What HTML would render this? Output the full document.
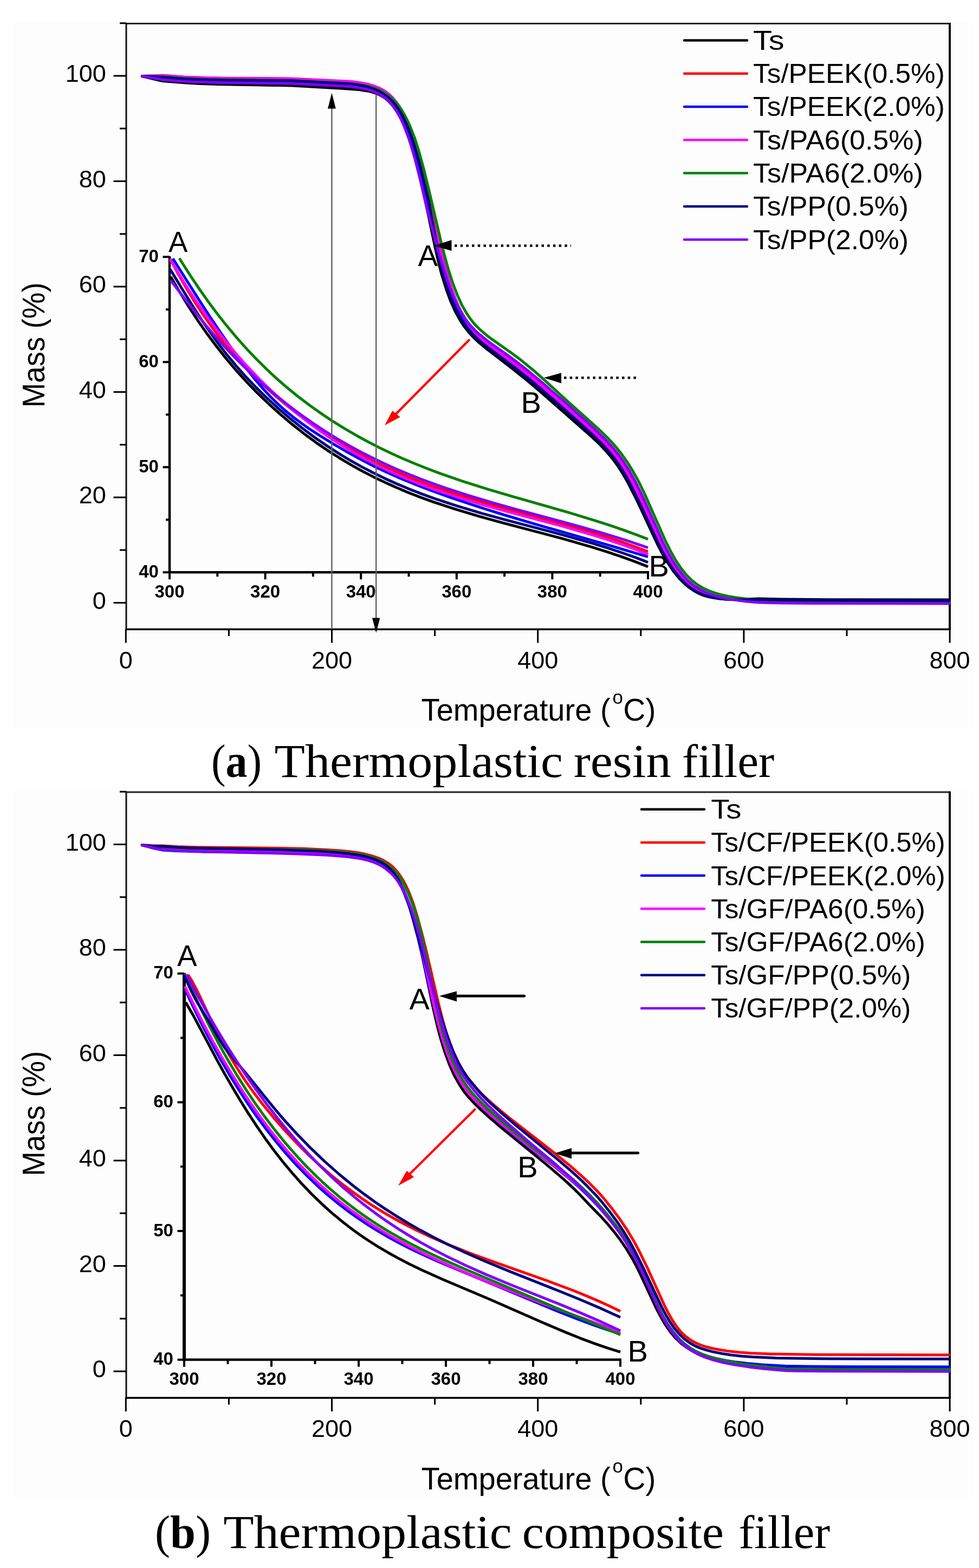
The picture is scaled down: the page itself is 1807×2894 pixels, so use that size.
<!DOCTYPE html>
<html><head><meta charset="utf-8"><title>TGA curves</title>
<style>html,body{margin:0;padding:0;background:#fff;} svg{display:block;}</style>
</head><body>
<svg xmlns="http://www.w3.org/2000/svg" width="1807" height="2894" viewBox="0 0 1807 2894">
<rect x="25" y="40" width="1771.5" height="1304.7" fill="#fdfdfd"/>
<rect x="25" y="1459" width="1771.5" height="1306" fill="#fdfdfd"/>
<line x1="233.0" y1="43.5" x2="1753.0" y2="43.5" stroke="#222" stroke-width="3" />
<line x1="1753.0" y1="42.0" x2="1753.0" y2="1163.0" stroke="#000" stroke-width="4" />
<line x1="233.0" y1="42.0" x2="233.0" y2="1163.0" stroke="#111" stroke-width="3" />
<line x1="231.5" y1="1161.5" x2="1755.0" y2="1161.5" stroke="#000" stroke-width="3.5" />
<line x1="232.3" y1="1161.5" x2="232.3" y2="1186.5" stroke="#000" stroke-width="3" />
<line x1="422.4" y1="1161.5" x2="422.4" y2="1174.0" stroke="#000" stroke-width="3" />
<line x1="612.5" y1="1161.5" x2="612.5" y2="1186.5" stroke="#000" stroke-width="3" />
<line x1="802.6" y1="1161.5" x2="802.6" y2="1174.0" stroke="#000" stroke-width="3" />
<line x1="992.7" y1="1161.5" x2="992.7" y2="1186.5" stroke="#000" stroke-width="3" />
<line x1="1182.8" y1="1161.5" x2="1182.8" y2="1174.0" stroke="#000" stroke-width="3" />
<line x1="1372.9" y1="1161.5" x2="1372.9" y2="1186.5" stroke="#000" stroke-width="3" />
<line x1="1563.0" y1="1161.5" x2="1563.0" y2="1174.0" stroke="#000" stroke-width="3" />
<line x1="1753.1" y1="1161.5" x2="1753.1" y2="1186.5" stroke="#000" stroke-width="3" />
<text x="232.3" y="1233.5" font-size="45" text-anchor="middle" font-weight="normal" font-family="Liberation Sans, Arial, sans-serif" >0</text>
<text x="612.5" y="1233.5" font-size="45" text-anchor="middle" font-weight="normal" font-family="Liberation Sans, Arial, sans-serif" >200</text>
<text x="992.7" y="1233.5" font-size="45" text-anchor="middle" font-weight="normal" font-family="Liberation Sans, Arial, sans-serif" >400</text>
<text x="1372.9" y="1233.5" font-size="45" text-anchor="middle" font-weight="normal" font-family="Liberation Sans, Arial, sans-serif" >600</text>
<text x="1753.1" y="1233.5" font-size="45" text-anchor="middle" font-weight="normal" font-family="Liberation Sans, Arial, sans-serif" >800</text>
<line x1="209.5" y1="1112.5" x2="233.0" y2="1112.5" stroke="#000" stroke-width="3" />
<line x1="221.0" y1="1015.2" x2="233.0" y2="1015.2" stroke="#000" stroke-width="3" />
<line x1="209.5" y1="918.0" x2="233.0" y2="918.0" stroke="#000" stroke-width="3" />
<line x1="221.0" y1="820.8" x2="233.0" y2="820.8" stroke="#000" stroke-width="3" />
<line x1="209.5" y1="723.5" x2="233.0" y2="723.5" stroke="#000" stroke-width="3" />
<line x1="221.0" y1="626.2" x2="233.0" y2="626.2" stroke="#000" stroke-width="3" />
<line x1="209.5" y1="529.0" x2="233.0" y2="529.0" stroke="#000" stroke-width="3" />
<line x1="221.0" y1="431.8" x2="233.0" y2="431.8" stroke="#000" stroke-width="3" />
<line x1="209.5" y1="334.5" x2="233.0" y2="334.5" stroke="#000" stroke-width="3" />
<line x1="221.0" y1="237.2" x2="233.0" y2="237.2" stroke="#000" stroke-width="3" />
<line x1="209.5" y1="140.0" x2="233.0" y2="140.0" stroke="#000" stroke-width="3" />
<line x1="221.0" y1="42.8" x2="233.0" y2="42.8" stroke="#000" stroke-width="3" />
<text x="195.8" y="1123.7" font-size="45" text-anchor="end" font-weight="normal" font-family="Liberation Sans, Arial, sans-serif" >0</text>
<text x="195.8" y="929.2" font-size="45" text-anchor="end" font-weight="normal" font-family="Liberation Sans, Arial, sans-serif" >20</text>
<text x="195.8" y="734.7" font-size="45" text-anchor="end" font-weight="normal" font-family="Liberation Sans, Arial, sans-serif" >40</text>
<text x="195.8" y="540.2" font-size="45" text-anchor="end" font-weight="normal" font-family="Liberation Sans, Arial, sans-serif" >60</text>
<text x="195.8" y="345.7" font-size="45" text-anchor="end" font-weight="normal" font-family="Liberation Sans, Arial, sans-serif" >80</text>
<text x="195.8" y="151.2" font-size="45" text-anchor="end" font-weight="normal" font-family="Liberation Sans, Arial, sans-serif" >100</text>
<text x="777.6" y="1330" font-size="57" font-family="Liberation Sans, Arial, sans-serif" textLength="349" lengthAdjust="spacingAndGlyphs">Temperature (</text>
<text x="1130.4" y="1299.3" font-size="35" font-family="Liberation Sans, Arial, sans-serif">o</text>
<text x="1150.3" y="1330" font-size="57" font-family="Liberation Sans, Arial, sans-serif">C)</text>
<text transform="translate(81.8,752.2) rotate(-90)" font-size="57" font-family="Liberation Sans, Arial, sans-serif" textLength="230.8" lengthAdjust="spacingAndGlyphs">Mass (%)</text>
<line x1="233.0" y1="1462.0" x2="1753.0" y2="1462.0" stroke="#222" stroke-width="3" />
<line x1="1753.0" y1="1460.5" x2="1753.0" y2="2581.5" stroke="#000" stroke-width="4" />
<line x1="233.0" y1="1460.5" x2="233.0" y2="2581.5" stroke="#111" stroke-width="3" />
<line x1="231.5" y1="2580.0" x2="1755.0" y2="2580.0" stroke="#000" stroke-width="3.5" />
<line x1="232.3" y1="2580.0" x2="232.3" y2="2605.0" stroke="#000" stroke-width="3" />
<line x1="422.4" y1="2580.0" x2="422.4" y2="2592.5" stroke="#000" stroke-width="3" />
<line x1="612.5" y1="2580.0" x2="612.5" y2="2605.0" stroke="#000" stroke-width="3" />
<line x1="802.6" y1="2580.0" x2="802.6" y2="2592.5" stroke="#000" stroke-width="3" />
<line x1="992.7" y1="2580.0" x2="992.7" y2="2605.0" stroke="#000" stroke-width="3" />
<line x1="1182.8" y1="2580.0" x2="1182.8" y2="2592.5" stroke="#000" stroke-width="3" />
<line x1="1372.9" y1="2580.0" x2="1372.9" y2="2605.0" stroke="#000" stroke-width="3" />
<line x1="1563.0" y1="2580.0" x2="1563.0" y2="2592.5" stroke="#000" stroke-width="3" />
<line x1="1753.1" y1="2580.0" x2="1753.1" y2="2605.0" stroke="#000" stroke-width="3" />
<text x="232.3" y="2652.0" font-size="45" text-anchor="middle" font-weight="normal" font-family="Liberation Sans, Arial, sans-serif" >0</text>
<text x="612.5" y="2652.0" font-size="45" text-anchor="middle" font-weight="normal" font-family="Liberation Sans, Arial, sans-serif" >200</text>
<text x="992.7" y="2652.0" font-size="45" text-anchor="middle" font-weight="normal" font-family="Liberation Sans, Arial, sans-serif" >400</text>
<text x="1372.9" y="2652.0" font-size="45" text-anchor="middle" font-weight="normal" font-family="Liberation Sans, Arial, sans-serif" >600</text>
<text x="1753.1" y="2652.0" font-size="45" text-anchor="middle" font-weight="normal" font-family="Liberation Sans, Arial, sans-serif" >800</text>
<line x1="209.5" y1="2531.0" x2="233.0" y2="2531.0" stroke="#000" stroke-width="3" />
<line x1="221.0" y1="2433.8" x2="233.0" y2="2433.8" stroke="#000" stroke-width="3" />
<line x1="209.5" y1="2336.5" x2="233.0" y2="2336.5" stroke="#000" stroke-width="3" />
<line x1="221.0" y1="2239.2" x2="233.0" y2="2239.2" stroke="#000" stroke-width="3" />
<line x1="209.5" y1="2142.0" x2="233.0" y2="2142.0" stroke="#000" stroke-width="3" />
<line x1="221.0" y1="2044.8" x2="233.0" y2="2044.8" stroke="#000" stroke-width="3" />
<line x1="209.5" y1="1947.5" x2="233.0" y2="1947.5" stroke="#000" stroke-width="3" />
<line x1="221.0" y1="1850.2" x2="233.0" y2="1850.2" stroke="#000" stroke-width="3" />
<line x1="209.5" y1="1753.0" x2="233.0" y2="1753.0" stroke="#000" stroke-width="3" />
<line x1="221.0" y1="1655.8" x2="233.0" y2="1655.8" stroke="#000" stroke-width="3" />
<line x1="209.5" y1="1558.5" x2="233.0" y2="1558.5" stroke="#000" stroke-width="3" />
<line x1="221.0" y1="1461.2" x2="233.0" y2="1461.2" stroke="#000" stroke-width="3" />
<text x="195.8" y="2542.2" font-size="45" text-anchor="end" font-weight="normal" font-family="Liberation Sans, Arial, sans-serif" >0</text>
<text x="195.8" y="2347.7" font-size="45" text-anchor="end" font-weight="normal" font-family="Liberation Sans, Arial, sans-serif" >20</text>
<text x="195.8" y="2153.2" font-size="45" text-anchor="end" font-weight="normal" font-family="Liberation Sans, Arial, sans-serif" >40</text>
<text x="195.8" y="1958.7" font-size="45" text-anchor="end" font-weight="normal" font-family="Liberation Sans, Arial, sans-serif" >60</text>
<text x="195.8" y="1764.2" font-size="45" text-anchor="end" font-weight="normal" font-family="Liberation Sans, Arial, sans-serif" >80</text>
<text x="195.8" y="1569.7" font-size="45" text-anchor="end" font-weight="normal" font-family="Liberation Sans, Arial, sans-serif" >100</text>
<text x="777.6" y="2748.5" font-size="57" font-family="Liberation Sans, Arial, sans-serif" textLength="349" lengthAdjust="spacingAndGlyphs">Temperature (</text>
<text x="1130.4" y="2717.8" font-size="35" font-family="Liberation Sans, Arial, sans-serif">o</text>
<text x="1150.3" y="2748.5" font-size="57" font-family="Liberation Sans, Arial, sans-serif">C)</text>
<text transform="translate(81.8,2170.7) rotate(-90)" font-size="57" font-family="Liberation Sans, Arial, sans-serif" textLength="230.8" lengthAdjust="spacingAndGlyphs">Mass (%)</text>
<line x1="1263.0" y1="74.4" x2="1379.0" y2="74.4" stroke="#000000" stroke-width="4.5" stroke-linecap="round"/>
<text x="1390.0" y="91.8" font-size="50" text-anchor="start" font-weight="normal" font-family="Liberation Sans, Arial, sans-serif" textLength="57.6" lengthAdjust="spacingAndGlyphs">Ts</text>
<line x1="1263.0" y1="135.7" x2="1379.0" y2="135.7" stroke="#ff0000" stroke-width="4.5" stroke-linecap="round"/>
<text x="1390.0" y="153.1" font-size="50" text-anchor="start" font-weight="normal" font-family="Liberation Sans, Arial, sans-serif" textLength="353.8" lengthAdjust="spacingAndGlyphs">Ts/PEEK(0.5%)</text>
<line x1="1263.0" y1="197.0" x2="1379.0" y2="197.0" stroke="#0000ff" stroke-width="4.5" stroke-linecap="round"/>
<text x="1390.0" y="214.4" font-size="50" text-anchor="start" font-weight="normal" font-family="Liberation Sans, Arial, sans-serif" textLength="353.8" lengthAdjust="spacingAndGlyphs">Ts/PEEK(2.0%)</text>
<line x1="1263.0" y1="258.3" x2="1379.0" y2="258.3" stroke="#ff00ff" stroke-width="4.5" stroke-linecap="round"/>
<text x="1390.0" y="275.7" font-size="50" text-anchor="start" font-weight="normal" font-family="Liberation Sans, Arial, sans-serif" textLength="313.7" lengthAdjust="spacingAndGlyphs">Ts/PA6(0.5%)</text>
<line x1="1263.0" y1="319.6" x2="1379.0" y2="319.6" stroke="#008000" stroke-width="4.5" stroke-linecap="round"/>
<text x="1390.0" y="337.0" font-size="50" text-anchor="start" font-weight="normal" font-family="Liberation Sans, Arial, sans-serif" textLength="313.7" lengthAdjust="spacingAndGlyphs">Ts/PA6(2.0%)</text>
<line x1="1263.0" y1="380.9" x2="1379.0" y2="380.9" stroke="#000080" stroke-width="4.5" stroke-linecap="round"/>
<text x="1390.0" y="398.3" font-size="50" text-anchor="start" font-weight="normal" font-family="Liberation Sans, Arial, sans-serif" textLength="286.9" lengthAdjust="spacingAndGlyphs">Ts/PP(0.5%)</text>
<line x1="1263.0" y1="442.2" x2="1379.0" y2="442.2" stroke="#8000ff" stroke-width="4.5" stroke-linecap="round"/>
<text x="1390.0" y="459.6" font-size="50" text-anchor="start" font-weight="normal" font-family="Liberation Sans, Arial, sans-serif" textLength="286.9" lengthAdjust="spacingAndGlyphs">Ts/PP(2.0%)</text>
<line x1="1184.0" y1="1493.7" x2="1300.0" y2="1493.7" stroke="#000000" stroke-width="4.5" stroke-linecap="round"/>
<text x="1312.2" y="1511.1" font-size="50" text-anchor="start" font-weight="normal" font-family="Liberation Sans, Arial, sans-serif" textLength="56.3" lengthAdjust="spacingAndGlyphs">Ts</text>
<line x1="1184.0" y1="1554.9" x2="1300.0" y2="1554.9" stroke="#ff0000" stroke-width="4.5" stroke-linecap="round"/>
<text x="1312.2" y="1572.3" font-size="50" text-anchor="start" font-weight="normal" font-family="Liberation Sans, Arial, sans-serif" textLength="432.5" lengthAdjust="spacingAndGlyphs">Ts/CF/PEEK(0.5%)</text>
<line x1="1184.0" y1="1616.1" x2="1300.0" y2="1616.1" stroke="#0000ff" stroke-width="4.5" stroke-linecap="round"/>
<text x="1312.2" y="1633.5" font-size="50" text-anchor="start" font-weight="normal" font-family="Liberation Sans, Arial, sans-serif" textLength="432.5" lengthAdjust="spacingAndGlyphs">Ts/CF/PEEK(2.0%)</text>
<line x1="1184.0" y1="1677.3" x2="1300.0" y2="1677.3" stroke="#ff00ff" stroke-width="4.5" stroke-linecap="round"/>
<text x="1312.2" y="1694.7" font-size="50" text-anchor="start" font-weight="normal" font-family="Liberation Sans, Arial, sans-serif" textLength="395.7" lengthAdjust="spacingAndGlyphs">Ts/GF/PA6(0.5%)</text>
<line x1="1184.0" y1="1738.5" x2="1300.0" y2="1738.5" stroke="#008000" stroke-width="4.5" stroke-linecap="round"/>
<text x="1312.2" y="1755.9" font-size="50" text-anchor="start" font-weight="normal" font-family="Liberation Sans, Arial, sans-serif" textLength="395.7" lengthAdjust="spacingAndGlyphs">Ts/GF/PA6(2.0%)</text>
<line x1="1184.0" y1="1799.7" x2="1300.0" y2="1799.7" stroke="#000080" stroke-width="4.5" stroke-linecap="round"/>
<text x="1312.2" y="1817.1" font-size="50" text-anchor="start" font-weight="normal" font-family="Liberation Sans, Arial, sans-serif" textLength="369.1" lengthAdjust="spacingAndGlyphs">Ts/GF/PP(0.5%)</text>
<line x1="1184.0" y1="1860.9" x2="1300.0" y2="1860.9" stroke="#8000ff" stroke-width="4.5" stroke-linecap="round"/>
<text x="1312.2" y="1878.3" font-size="50" text-anchor="start" font-weight="normal" font-family="Liberation Sans, Arial, sans-serif" textLength="369.1" lengthAdjust="spacingAndGlyphs">Ts/GF/PP(2.0%)</text>
<path d="M262.3,140.7 299.8,149.5 343.9,153.1 371.0,154.5 402.0,155.5 538.9,157.9 631.6,163.2 662.9,165.6 680.1,168.2 687.5,170.1 694.6,172.5 701.5,175.5 707.2,178.8 711.8,182.0 716.8,186.4 722.1,191.8 727.5,198.5 732.9,206.5 737.8,214.9 742.6,224.6 747.3,235.4 756.2,259.5 765.9,291.8 776.4,333.4 785.6,373.3 803.5,458.6 809.4,484.0 814.9,505.5 823.3,532.6 831.7,555.6 840.6,575.4 850.3,592.8 857.4,603.3 865.3,613.3 873.9,622.6 883.0,631.3 898.2,643.8 941.7,677.2 971.0,700.6 993.0,719.0 1089.9,804.0 1107.6,820.8 1122.1,836.4 1131.9,848.4 1140.9,860.8 1149.8,874.7 1158.6,889.9 1176.8,925.9 1212.8,1003.0 1222.6,1022.0 1231.9,1037.9 1242.8,1054.2 1254.1,1067.9 1265.4,1079.0 1272.0,1084.3 1278.1,1088.5 1284.5,1092.4 1292.0,1096.2 1297.8,1098.7 1304.9,1100.8 1314.0,1102.9 1323.1,1104.4 1333.3,1105.5 1344.4,1106.2 1368.6,1106.3 1400.6,1105.0 1442.5,1106.0 1502.5,1106.6 1751.7,1106.9" fill="none" stroke="#000000" stroke-width="5.0" stroke-linejoin="round" stroke-linecap="round"/>
<path d="M262.3,140.6 300.8,139.5 339.5,142.4 380.3,144.1 420.2,144.7 537.3,145.4 646.5,150.8 658.6,152.2 670.8,154.2 680.9,156.5 690.0,159.3 698.8,162.8 706.3,166.8 713.5,171.4 720.0,176.8 726.0,182.8 731.3,189.2 736.7,196.9 742.0,205.7 746.7,214.8 751.3,225.0 755.8,236.2 760.6,249.5 768.6,275.5 776.9,306.5 784.1,336.7 808.1,442.0 815.5,472.0 822.6,498.0 831.3,526.7 839.7,550.1 848.5,570.2 858.1,587.6 864.8,597.6 872.2,607.0 880.3,615.9 889.0,624.2 904.0,636.1 951.4,671.1 967.8,684.1 985.4,698.9 1097.6,798.5 1115.5,815.8 1129.7,831.2 1139.7,843.6 1149.5,857.4 1158.6,871.7 1167.9,888.2 1184.3,921.3 1220.0,999.6 1229.4,1018.3 1238.8,1034.9 1249.3,1050.8 1260.0,1064.1 1265.5,1069.9 1271.4,1075.3 1277.6,1080.3 1283.4,1084.3 1292.0,1089.3 1302.0,1093.9 1311.4,1097.3 1322.0,1100.3 1333.8,1102.7 1347.6,1104.8 1362.5,1106.4 1380.5,1107.6 1421.5,1109.1 1481.5,1109.9 1751.7,1110.4" fill="none" stroke="#ff0000" stroke-width="5.0" stroke-linejoin="round" stroke-linecap="round"/>
<path d="M262.3,140.7 302.2,145.7 329.1,147.9 356.1,149.5 409.1,151.0 537.1,152.5 629.9,157.2 649.9,158.6 661.7,159.9 672.5,161.7 682.2,163.9 690.7,166.5 698.9,169.9 705.9,173.7 711.6,177.5 717.6,182.6 723.1,188.3 728.7,195.2 733.7,202.5 738.7,211.0 743.7,220.8 748.1,230.8 752.8,242.8 757.4,255.9 767.0,287.4 777.1,326.0 788.0,372.7 806.1,455.9 812.4,482.2 818.3,504.5 826.5,530.4 834.6,552.2 843.4,571.7 852.3,587.7 859.2,598.0 866.2,606.9 874.5,616.1 883.4,624.6 899.8,638.2 947.7,674.3 970.9,692.9 990.7,709.6 1093.4,800.1 1111.3,817.2 1126.0,833.1 1135.9,845.2 1145.7,858.8 1154.7,872.9 1163.9,889.2 1181.2,923.9 1216.7,1001.2 1226.8,1020.9 1235.8,1036.7 1246.5,1052.8 1257.5,1066.3 1268.5,1077.1 1274.9,1082.2 1280.8,1086.4 1288.8,1091.1 1297.1,1095.1 1304.8,1098.0 1313.6,1100.6 1324.5,1102.9 1335.5,1104.6 1347.5,1105.9 1361.5,1106.8 1436.5,1108.4 1489.5,1109.0 1751.7,1109.4" fill="none" stroke="#0000ff" stroke-width="5.0" stroke-linejoin="round" stroke-linecap="round"/>
<path d="M262.3,140.6 300.8,139.0 339.5,141.9 380.3,143.6 420.2,144.2 536.3,144.9 645.5,150.2 657.7,151.5 669.9,153.4 681.1,155.8 690.2,158.5 699.1,162.0 706.8,165.9 714.0,170.6 719.8,175.4 725.8,181.5 731.2,188.0 736.6,195.7 741.4,203.7 746.1,212.8 750.8,223.0 759.7,246.7 766.5,268.8 773.8,295.9 781.6,329.0 791.0,372.1 801.6,416.8 811.5,456.6 820.0,487.4 831.3,525.6 839.4,549.2 843.8,560.2 848.8,571.1 853.8,580.9 858.8,589.6 865.5,599.6 872.2,608.3 879.6,616.6 888.2,625.2 902.4,636.5 951.3,672.9 977.1,693.3 1001.6,713.8 1039.5,746.5 1092.9,794.8 1112.2,813.5 1127.0,829.6 1137.0,841.9 1146.8,855.6 1155.9,869.9 1164.7,885.4 1172.0,899.6 1183.3,922.9 1218.6,1000.2 1228.2,1019.0 1237.1,1034.7 1247.7,1050.7 1258.4,1064.1 1263.9,1070.0 1269.9,1075.5 1276.2,1080.6 1281.9,1084.7 1290.7,1089.8 1300.7,1094.5 1311.1,1098.3 1321.8,1101.3 1333.6,1103.7 1346.5,1105.7 1361.5,1107.3 1379.4,1108.6 1420.4,1110.1 1480.4,1110.9 1751.7,1111.4" fill="none" stroke="#ff00ff" stroke-width="5.0" stroke-linejoin="round" stroke-linecap="round"/>
<path d="M262.3,140.7 300.6,141.5 340.4,144.7 381.2,146.4 541.2,148.6 631.2,153.3 649.2,154.5 662.3,156.0 674.3,157.9 684.2,160.3 693.0,163.1 700.7,166.3 708.0,170.2 717.4,176.7 723.8,182.0 729.7,187.9 735.0,194.3 740.5,201.8 745.8,210.6 751.1,220.6 755.9,230.7 765.6,255.3 773.8,281.3 782.5,313.3 791.1,348.4 813.9,445.7 821.3,474.7 828.0,498.5 836.2,523.9 844.3,545.0 852.4,562.7 861.4,578.6 867.3,587.3 873.7,595.5 880.7,603.2 888.3,610.4 897.8,618.4 907.0,625.4 943.7,651.3 961.6,664.6 984.3,683.2 1003.9,700.6 1046.7,739.8 1104.2,791.3 1121.7,808.3 1136.3,824.2 1147.2,837.9 1157.3,852.2 1167.1,867.8 1176.6,884.7 1184.8,901.0 1192.1,916.6 1227.7,997.0 1237.3,1016.4 1246.3,1032.7 1256.4,1048.1 1266.5,1060.8 1277.3,1071.5 1288.5,1080.0 1297.4,1085.2 1309.5,1090.8 1320.4,1094.7 1331.7,1097.8 1345.1,1100.7 1360.8,1103.2 1378.6,1105.4 1399.5,1107.5 1439.5,1108.5 1500.5,1109.0 1751.7,1109.4" fill="none" stroke="#008000" stroke-width="5.0" stroke-linejoin="round" stroke-linecap="round"/>
<path d="M262.3,140.7 300.5,142.5 333.3,145.2 366.2,146.8 414.2,148.0 537.2,149.1 630.1,153.7 650.2,155.1 662.1,156.9 673.0,159.1 682.8,161.8 691.4,164.8 698.7,168.1 705.7,172.1 714.6,178.5 720.0,183.0 726.3,189.5 731.9,196.5 737.6,204.8 743.1,214.4 748.0,224.3 753.2,236.2 758.2,249.3 763.1,263.5 769.2,283.7 775.8,307.8 791.3,372.0 806.4,453.7 812.0,481.2 817.3,504.8 825.4,530.8 833.8,553.7 842.6,573.2 851.5,589.5 858.4,599.8 866.1,609.7 874.5,619.0 884.2,628.3 898.5,640.0 936.1,668.3 968.8,694.0 1007.8,726.4 1035.9,750.5 1091.6,800.6 1109.4,817.7 1124.0,833.5 1133.8,845.6 1143.4,859.1 1152.3,873.2 1161.0,888.6 1179.1,924.8 1214.7,1002.1 1224.8,1021.9 1234.0,1037.8 1244.8,1054.0 1255.9,1067.7 1267.1,1078.6 1273.6,1083.9 1279.7,1088.1 1286.9,1092.4 1295.3,1096.5 1301.2,1098.8 1309.2,1101.1 1318.2,1103.1 1328.3,1104.7 1339.4,1105.9 1351.4,1106.7 1372.5,1107.1 1400.5,1106.5 1446.5,1107.6 1515.5,1108.1 1751.7,1108.4" fill="none" stroke="#000080" stroke-width="5.0" stroke-linejoin="round" stroke-linecap="round"/>
<path d="M262.3,140.7 300.1,147.0 326.0,149.2 351.0,150.8 406.1,152.5 537.0,154.0 629.9,158.7 649.7,160.1 661.5,161.7 672.2,163.7 680.7,165.8 689.0,168.5 696.1,171.5 702.8,175.1 709.1,179.4 715.7,184.8 721.0,190.2 725.9,196.1 730.9,203.2 735.4,210.7 740.0,219.3 744.5,229.1 753.1,251.1 760.1,272.8 767.4,298.7 775.4,330.5 785.3,373.3 795.2,412.1 806.2,453.8 815.4,485.5 826.4,519.9 835.1,543.3 844.6,564.3 854.4,581.7 861.1,591.6 867.9,600.2 875.3,608.2 883.3,615.7 902.6,631.2 940.1,657.9 957.8,671.1 975.9,685.3 995.2,701.4 1042.8,742.7 1096.3,790.9 1115.9,809.8 1131.0,826.1 1141.8,839.5 1151.8,853.5 1161.5,868.8 1171.3,886.4 1179.4,902.6 1187.6,919.8 1222.9,999.3 1232.2,1018.0 1241.3,1034.5 1251.6,1050.4 1262.0,1063.5 1267.5,1069.3 1273.2,1074.7 1279.3,1079.7 1285.0,1083.7 1294.3,1089.2 1306.0,1094.7 1317.2,1098.8 1328.8,1102.1 1342.5,1105.1 1358.4,1107.6 1377.3,1109.9 1399.3,1112.0 1440.4,1113.0 1500.4,1113.5 1751.7,1113.9" fill="none" stroke="#8000ff" stroke-width="5.0" stroke-linejoin="round" stroke-linecap="round"/>
<path d="M262.3,1559.9 279.2,1563.1 299.1,1565.8 332.0,1568.0 380.0,1569.4 499.0,1571.0 553.0,1572.1 595.9,1574.1 630.8,1576.8 647.6,1578.7 662.3,1581.0 674.9,1583.7 685.4,1586.6 693.7,1589.8 702.4,1594.1 710.5,1599.4 717.1,1605.0 723.3,1611.1 728.3,1617.0 733.4,1624.1 738.5,1632.5 743.5,1642.1 747.9,1652.0 752.6,1663.9 757.2,1677.1 764.2,1699.9 770.4,1723.0 778.3,1759.1 799.6,1861.0 806.6,1891.3 813.0,1915.7 821.0,1941.9 829.5,1965.0 838.4,1984.8 848.7,2003.0 856.9,2015.2 864.2,2024.2 874.8,2035.7 887.3,2048.0 902.4,2061.6 922.3,2078.7 1008.5,2149.1 1041.4,2177.4 1056.5,2191.3 1070.4,2205.1 1088.4,2224.2 1106.9,2242.9 1122.0,2259.6 1134.4,2274.6 1146.1,2290.1 1156.5,2305.4 1166.6,2322.1 1173.6,2335.0 1181.5,2350.9 1212.5,2417.1 1220.6,2432.4 1228.5,2445.6 1238.0,2459.2 1247.6,2470.3 1257.5,2479.7 1267.7,2487.3 1280.4,2494.5 1293.9,2500.0 1307.6,2504.1 1335.4,2510.7 1355.3,2514.6 1377.3,2517.8 1403.4,2520.8 1434.5,2523.6 1450.5,2524.8 1513.7,2525.7 1752.0,2526.2" fill="none" stroke="#000000" stroke-width="5.0" stroke-linejoin="round" stroke-linecap="round"/>
<path d="M262.3,1559.8 280.5,1560.8 300.5,1560.9 328.3,1562.7 362.2,1563.8 505.1,1565.3 558.2,1566.3 596.2,1567.9 627.3,1569.9 645.4,1571.7 660.5,1573.8 673.5,1576.3 685.5,1579.4 697.4,1583.4 707.0,1587.6 716.2,1593.1 723.9,1599.0 729.2,1604.3 734.6,1610.8 739.5,1617.6 744.5,1625.6 749.3,1634.7 753.7,1644.0 762.5,1666.8 770.6,1692.8 780.0,1727.8 787.9,1759.9 809.9,1854.3 816.8,1881.4 823.5,1905.3 831.0,1926.8 838.7,1945.9 846.7,1962.6 855.4,1977.7 865.2,1991.7 879.3,2008.4 889.7,2019.6 902.4,2031.5 918.7,2045.7 939.4,2062.6 1022.8,2127.7 1053.4,2152.6 1070.2,2167.3 1085.2,2181.1 1101.1,2197.0 1112.1,2209.0 1128.8,2229.6 1144.0,2250.0 1157.2,2269.5 1169.3,2289.6 1179.0,2307.5 1194.6,2339.4 1227.3,2411.2 1234.5,2425.1 1241.2,2436.9 1249.2,2448.8 1256.8,2458.2 1266.2,2467.0 1275.7,2473.9 1283.6,2478.3 1292.7,2482.3 1303.2,2485.8 1314.1,2488.5 1332.7,2492.0 1346.9,2494.1 1365.3,2496.1 1385.8,2497.5 1424.3,2498.9 1509.9,2500.2 1752.0,2500.7" fill="none" stroke="#ff0000" stroke-width="5.0" stroke-linejoin="round" stroke-linecap="round"/>
<path d="M262.3,1559.9 280.0,1564.7 299.8,1568.9 324.9,1570.5 377.0,1572.1 499.0,1573.2 551.9,1574.1 602.8,1575.9 639.6,1578.5 654.4,1580.3 667.1,1582.3 678.7,1584.8 688.2,1587.6 697.3,1591.2 705.1,1595.2 712.5,1600.0 718.5,1604.9 723.9,1610.5 728.8,1616.6 733.2,1623.1 737.7,1630.7 742.2,1639.4 746.2,1648.4 754.6,1670.6 762.1,1695.3 771.0,1729.0 778.7,1761.0 801.2,1859.5 808.5,1888.7 815.9,1914.8 823.8,1939.8 832.2,1961.6 840.7,1980.0 850.3,1996.9 859.6,2010.5 870.0,2023.2 882.5,2036.6 897.2,2050.6 925.3,2075.2 963.1,2106.5 975.6,2116.6 1026.4,2155.3 1054.7,2178.6 1071.0,2193.1 1086.7,2208.2 1100.4,2222.4 1115.0,2238.7 1129.5,2256.2 1142.6,2273.5 1154.3,2290.7 1165.0,2308.4 1173.1,2323.1 1184.2,2345.3 1217.0,2416.1 1224.9,2431.3 1232.6,2444.3 1242.0,2457.6 1253.2,2470.7 1262.8,2479.9 1273.5,2487.8 1284.1,2494.0 1295.3,2499.1 1308.8,2503.8 1323.5,2507.8 1340.4,2511.2 1359.4,2514.1 1380.4,2516.6 1405.5,2518.7 1449.6,2521.3 1492.7,2522.0 1581.7,2522.5 1752.0,2522.7" fill="none" stroke="#0000ff" stroke-width="5.0" stroke-linejoin="round" stroke-linecap="round"/>
<path d="M262.3,1559.9 280.1,1563.7 300.0,1566.9 330.0,1568.9 380.0,1570.4 498.0,1572.0 551.0,1573.1 598.9,1575.0 635.7,1577.7 651.5,1579.6 665.2,1581.8 676.8,1584.2 687.3,1587.2 696.4,1590.8 705.1,1595.2 712.5,1600.0 719.2,1605.6 724.7,1611.1 730.3,1617.9 735.3,1625.2 739.8,1632.9 744.8,1642.5 749.2,1652.5 757.9,1675.8 765.5,1700.6 772.3,1726.6 780.2,1760.7 801.5,1858.4 808.3,1886.7 814.8,1911.0 822.9,1936.9 831.4,1959.7 840.3,1979.1 850.3,1996.9 859.6,2010.5 869.3,2022.4 882.0,2035.8 896.7,2049.7 921.8,2071.5 955.1,2098.9 975.4,2115.2 1026.2,2153.9 1053.9,2176.6 1070.2,2191.0 1086.0,2206.1 1097.7,2218.2 1113.0,2235.2 1128.1,2253.5 1141.8,2271.7 1154.0,2289.7 1164.6,2307.5 1172.6,2322.2 1183.7,2344.4 1216.9,2417.2 1224.8,2432.5 1232.5,2445.6 1241.9,2459.0 1251.8,2470.6 1261.5,2479.9 1272.3,2487.8 1284.8,2494.9 1299.0,2500.8 1312.7,2505.1 1339.3,2511.8 1360.2,2515.8 1385.3,2519.6 1414.4,2523.0 1449.5,2526.3 1546.7,2527.4 1752.0,2527.7" fill="none" stroke="#ff00ff" stroke-width="5.0" stroke-linejoin="round" stroke-linecap="round"/>
<path d="M262.3,1559.9 285.4,1562.2 342.1,1565.2 385.1,1566.2 497.1,1567.2 550.1,1568.1 595.1,1569.8 632.2,1572.4 649.2,1574.2 664.1,1576.5 677.1,1579.2 688.8,1582.5 698.4,1586.2 707.6,1590.8 715.4,1595.9 723.4,1602.6 729.2,1608.5 735.1,1615.6 740.4,1623.2 745.6,1632.0 750.6,1642.0 755.2,1652.2 760.0,1664.5 764.6,1677.8 772.0,1701.8 777.6,1723.2 785.4,1758.5 805.7,1856.4 812.2,1884.6 818.1,1907.9 826.2,1933.6 834.3,1955.2 843.0,1974.3 852.2,1990.9 861.2,2004.2 873.0,2019.1 885.3,2032.4 900.4,2047.1 928.1,2071.7 966.4,2103.9 978.1,2113.4 1028.6,2152.5 1057.7,2176.8 1073.9,2191.5 1089.6,2206.8 1103.3,2221.2 1117.7,2237.6 1132.7,2256.2 1145.7,2273.8 1157.8,2292.0 1168.3,2309.9 1176.7,2325.8 1185.3,2343.7 1210.1,2400.4 1218.1,2417.8 1225.8,2433.1 1233.4,2446.2 1242.0,2458.9 1251.8,2470.6 1261.5,2479.9 1272.3,2487.8 1284.8,2494.9 1299.0,2500.8 1312.7,2505.1 1339.3,2511.8 1360.2,2515.8 1385.3,2519.6 1414.4,2523.0 1449.5,2526.3 1546.7,2527.4 1752.0,2527.7" fill="none" stroke="#008000" stroke-width="5.0" stroke-linejoin="round" stroke-linecap="round"/>
<path d="M262.3,1559.8 278.4,1561.2 300.4,1561.9 322.2,1563.6 349.1,1564.9 388.1,1566.1 495.1,1568.0 546.1,1569.4 591.1,1571.3 628.0,1574.0 645.9,1576.0 660.8,1578.2 673.6,1580.8 685.2,1583.9 694.6,1587.4 703.7,1591.7 712.1,1597.1 719.1,1602.7 723.3,1607.1 727.7,1612.4 735.9,1624.8 743.5,1639.8 750.6,1657.3 759.1,1683.7 768.3,1718.4 780.1,1757.6 803.4,1841.5 816.7,1885.5 829.0,1921.2 836.8,1941.4 845.8,1960.9 855.4,1977.7 865.2,1991.7 881.5,2011.5 891.9,2022.8 905.1,2035.8 924.2,2053.0 949.1,2074.3 980.6,2100.4 1028.0,2138.9 1054.1,2161.1 1069.7,2175.3 1084.2,2189.4 1099.6,2205.4 1109.6,2216.8 1124.7,2235.7 1139.1,2255.1 1151.4,2273.4 1162.8,2292.3 1171.9,2309.1 1189.3,2344.0 1221.1,2411.9 1229.0,2426.9 1236.0,2438.8 1244.9,2451.8 1254.4,2462.9 1263.5,2471.5 1273.5,2478.8 1282.6,2483.9 1292.2,2488.1 1303.2,2491.7 1314.4,2494.6 1332.5,2498.2 1349.0,2500.7 1368.6,2502.9 1390.3,2504.6 1434.0,2506.4 1501.8,2507.6 1588.8,2508.1 1752.0,2508.2" fill="none" stroke="#000080" stroke-width="5.0" stroke-linejoin="round" stroke-linecap="round"/>
<path d="M262.3,1559.9 280.1,1564.2 299.9,1567.9 328.9,1570.1 379.0,1572.0 498.0,1574.5 549.9,1576.0 603.7,1578.3 641.3,1581.3 656.0,1583.2 668.5,1585.4 679.9,1588.1 689.9,1591.4 698.7,1595.1 706.1,1599.2 712.2,1603.5 720.8,1610.8 726.2,1616.2 731.7,1622.9 736.8,1630.1 741.3,1637.6 745.9,1646.4 750.6,1656.2 759.3,1678.5 767.4,1703.1 775.4,1731.0 783.6,1763.0 805.8,1853.3 812.7,1879.3 819.5,1902.3 827.8,1927.8 836.0,1949.1 844.8,1967.9 854.0,1984.1 862.3,1996.1 877.4,2015.2 887.8,2027.0 899.5,2039.0 918.4,2056.8 943.7,2079.4 977.8,2108.8 1025.3,2148.7 1052.8,2173.3 1067.8,2187.8 1082.3,2202.7 1107.8,2230.5 1122.6,2247.7 1136.1,2264.8 1147.7,2280.8 1158.5,2297.3 1168.4,2314.4 1176.2,2329.3 1184.4,2346.3 1215.9,2416.6 1224.2,2432.8 1231.8,2446.0 1241.1,2459.5 1253.1,2473.8 1262.9,2483.1 1273.8,2491.3 1286.6,2498.6 1300.9,2504.9 1316.7,2510.2 1335.7,2515.0 1356.8,2519.1 1382.0,2522.9 1410.2,2526.2 1444.4,2529.3 1450.4,2529.8 1469.5,2530.2 1531.7,2530.8 1752.0,2531.2" fill="none" stroke="#8000ff" stroke-width="5.0" stroke-linejoin="round" stroke-linecap="round"/>
<line x1="313.0" y1="473.1" x2="313.0" y2="1058.3" stroke="#000" stroke-width="4.5" />
<line x1="311.0" y1="1056.3" x2="1198.0" y2="1056.3" stroke="#000" stroke-width="4.5" />
<line x1="313.0" y1="1056.3" x2="313.0" y2="1069.3" stroke="#000" stroke-width="4" />
<text x="313.0" y="1103.1" font-size="33" text-anchor="middle" font-weight="bold" font-family="Liberation Sans, Arial, sans-serif" >300</text>
<line x1="401.3" y1="1056.3" x2="401.3" y2="1064.3" stroke="#000" stroke-width="4" />
<line x1="489.6" y1="1056.3" x2="489.6" y2="1069.3" stroke="#000" stroke-width="4" />
<text x="489.6" y="1103.1" font-size="33" text-anchor="middle" font-weight="bold" font-family="Liberation Sans, Arial, sans-serif" >320</text>
<line x1="577.9" y1="1056.3" x2="577.9" y2="1064.3" stroke="#000" stroke-width="4" />
<line x1="666.2" y1="1056.3" x2="666.2" y2="1069.3" stroke="#000" stroke-width="4" />
<text x="666.2" y="1103.1" font-size="33" text-anchor="middle" font-weight="bold" font-family="Liberation Sans, Arial, sans-serif" >340</text>
<line x1="754.5" y1="1056.3" x2="754.5" y2="1064.3" stroke="#000" stroke-width="4" />
<line x1="842.8" y1="1056.3" x2="842.8" y2="1069.3" stroke="#000" stroke-width="4" />
<text x="842.8" y="1103.1" font-size="33" text-anchor="middle" font-weight="bold" font-family="Liberation Sans, Arial, sans-serif" >360</text>
<line x1="931.1" y1="1056.3" x2="931.1" y2="1064.3" stroke="#000" stroke-width="4" />
<line x1="1019.4" y1="1056.3" x2="1019.4" y2="1069.3" stroke="#000" stroke-width="4" />
<text x="1019.4" y="1103.1" font-size="33" text-anchor="middle" font-weight="bold" font-family="Liberation Sans, Arial, sans-serif" >380</text>
<line x1="1107.7" y1="1056.3" x2="1107.7" y2="1064.3" stroke="#000" stroke-width="4" />
<line x1="1196.0" y1="1056.3" x2="1196.0" y2="1069.3" stroke="#000" stroke-width="4" />
<text x="1196.0" y="1103.1" font-size="33" text-anchor="middle" font-weight="bold" font-family="Liberation Sans, Arial, sans-serif" >400</text>
<line x1="300.5" y1="1056.3" x2="313.0" y2="1056.3" stroke="#000" stroke-width="4" />
<text x="292.9" y="1065.8" font-size="33" text-anchor="end" font-weight="bold" font-family="Liberation Sans, Arial, sans-serif" >40</text>
<line x1="306.0" y1="959.3" x2="313.0" y2="959.3" stroke="#000" stroke-width="4" />
<line x1="300.5" y1="862.2" x2="313.0" y2="862.2" stroke="#000" stroke-width="4" />
<text x="292.9" y="871.8" font-size="33" text-anchor="end" font-weight="bold" font-family="Liberation Sans, Arial, sans-serif" >50</text>
<line x1="306.0" y1="765.2" x2="313.0" y2="765.2" stroke="#000" stroke-width="4" />
<line x1="300.5" y1="668.2" x2="313.0" y2="668.2" stroke="#000" stroke-width="4" />
<text x="292.9" y="677.7" font-size="33" text-anchor="end" font-weight="bold" font-family="Liberation Sans, Arial, sans-serif" >60</text>
<line x1="306.0" y1="571.2" x2="313.0" y2="571.2" stroke="#000" stroke-width="4" />
<line x1="300.5" y1="474.1" x2="313.0" y2="474.1" stroke="#000" stroke-width="4" />
<text x="292.9" y="483.6" font-size="33" text-anchor="end" font-weight="bold" font-family="Liberation Sans, Arial, sans-serif" >70</text>
<line x1="340.0" y1="1795.8" x2="340.0" y2="2511.6" stroke="#000" stroke-width="6" />
<line x1="338.0" y1="2509.6" x2="1147.0" y2="2509.6" stroke="#000" stroke-width="4.5" />
<line x1="340.0" y1="2509.6" x2="340.0" y2="2522.6" stroke="#000" stroke-width="4" />
<text x="340.0" y="2556.4" font-size="33" text-anchor="middle" font-weight="bold" font-family="Liberation Sans, Arial, sans-serif" >300</text>
<line x1="420.5" y1="2509.6" x2="420.5" y2="2517.6" stroke="#000" stroke-width="4" />
<line x1="501.0" y1="2509.6" x2="501.0" y2="2522.6" stroke="#000" stroke-width="4" />
<text x="501.0" y="2556.4" font-size="33" text-anchor="middle" font-weight="bold" font-family="Liberation Sans, Arial, sans-serif" >320</text>
<line x1="581.5" y1="2509.6" x2="581.5" y2="2517.6" stroke="#000" stroke-width="4" />
<line x1="662.0" y1="2509.6" x2="662.0" y2="2522.6" stroke="#000" stroke-width="4" />
<text x="662.0" y="2556.4" font-size="33" text-anchor="middle" font-weight="bold" font-family="Liberation Sans, Arial, sans-serif" >340</text>
<line x1="742.5" y1="2509.6" x2="742.5" y2="2517.6" stroke="#000" stroke-width="4" />
<line x1="823.0" y1="2509.6" x2="823.0" y2="2522.6" stroke="#000" stroke-width="4" />
<text x="823.0" y="2556.4" font-size="33" text-anchor="middle" font-weight="bold" font-family="Liberation Sans, Arial, sans-serif" >360</text>
<line x1="903.5" y1="2509.6" x2="903.5" y2="2517.6" stroke="#000" stroke-width="4" />
<line x1="984.0" y1="2509.6" x2="984.0" y2="2522.6" stroke="#000" stroke-width="4" />
<text x="984.0" y="2556.4" font-size="33" text-anchor="middle" font-weight="bold" font-family="Liberation Sans, Arial, sans-serif" >380</text>
<line x1="1064.5" y1="2509.6" x2="1064.5" y2="2517.6" stroke="#000" stroke-width="4" />
<line x1="1145.0" y1="2509.6" x2="1145.0" y2="2522.6" stroke="#000" stroke-width="4" />
<text x="1145.0" y="2556.4" font-size="33" text-anchor="middle" font-weight="bold" font-family="Liberation Sans, Arial, sans-serif" >400</text>
<line x1="327.5" y1="2509.6" x2="340.0" y2="2509.6" stroke="#000" stroke-width="4" />
<text x="319.9" y="2519.1" font-size="33" text-anchor="end" font-weight="bold" font-family="Liberation Sans, Arial, sans-serif" >40</text>
<line x1="333.0" y1="2390.8" x2="340.0" y2="2390.8" stroke="#000" stroke-width="4" />
<line x1="327.5" y1="2272.0" x2="340.0" y2="2272.0" stroke="#000" stroke-width="4" />
<text x="319.9" y="2281.5" font-size="33" text-anchor="end" font-weight="bold" font-family="Liberation Sans, Arial, sans-serif" >50</text>
<line x1="333.0" y1="2153.2" x2="340.0" y2="2153.2" stroke="#000" stroke-width="4" />
<line x1="327.5" y1="2034.4" x2="340.0" y2="2034.4" stroke="#000" stroke-width="4" />
<text x="319.9" y="2043.9" font-size="33" text-anchor="end" font-weight="bold" font-family="Liberation Sans, Arial, sans-serif" >60</text>
<line x1="333.0" y1="1915.6" x2="340.0" y2="1915.6" stroke="#000" stroke-width="4" />
<line x1="327.5" y1="1796.8" x2="340.0" y2="1796.8" stroke="#000" stroke-width="4" />
<text x="319.9" y="1806.3" font-size="33" text-anchor="end" font-weight="bold" font-family="Liberation Sans, Arial, sans-serif" >70</text>
<path d="M315.0,510.5 331.2,538.3 347.6,564.9 364.4,590.5 381.4,614.9 399.0,638.5 416.9,661.1 435.4,683.0 454.2,703.7 474.2,724.4 495.1,744.5 516.8,764.2 538.8,782.8 561.2,800.4 583.8,817.1 607.0,832.9 630.5,847.7 649.9,859.1 669.6,870.0 689.8,880.4 710.4,890.3 731.6,899.8 753.6,909.1 776.2,917.9 799.7,926.4 840.0,939.7 884.9,953.1 928.4,965.1 1034.7,993.2 1090.5,1009.1 1119.3,1018.1 1146.1,1027.1 1171.6,1036.3 1196.0,1045.9" fill="none" stroke="#000000" stroke-width="5.0" stroke-linejoin="round"/>
<path d="M314.0,477.6 328.7,505.2 343.7,531.5 359.0,556.6 374.9,580.8 391.1,603.8 407.8,625.9 424.9,646.8 442.8,667.1 462.2,687.5 482.5,707.3 504.9,727.6 527.8,747.1 550.7,765.3 574.3,782.7 598.1,799.1 622.5,814.6 642.8,826.7 663.4,838.1 684.6,849.2 706.3,859.8 728.7,869.9 751.6,879.6 775.1,888.9 799.8,898.0 841.9,912.1 888.7,926.3 933.4,938.8 1040.7,967.8 1095.7,983.7 1122.8,992.2 1148.4,1000.7 1172.8,1009.4 1196.0,1018.2" fill="none" stroke="#ff0000" stroke-width="5.0" stroke-linejoin="round"/>
<path d="M319.0,477.2 369.0,556.1 389.8,588.0 409.1,616.7 426.3,641.6 442.4,663.8 457.6,683.8 471.9,701.6 485.7,717.6 498.8,731.7 512.3,745.0 526.0,757.3 540.7,769.4 556.2,781.1 572.8,792.7 592.1,805.1 618.7,821.4 644.5,836.3 669.3,849.8 693.6,862.2 717.3,873.3 742.1,884.2 769.1,895.1 798.6,906.3 829.3,917.3 861.2,928.2 894.8,939.2 931.1,950.5 987.2,967.2 1130.2,1008.2 1196.0,1027.7" fill="none" stroke="#0000ff" stroke-width="5.0" stroke-linejoin="round"/>
<path d="M314.0,478.4 331.1,507.3 348.1,534.7 365.5,560.9 383.1,586.1 401.3,610.6 419.9,634.1 438.7,656.4 458.1,678.1 478.4,699.3 499.3,719.8 520.8,739.5 542.8,758.5 564.9,776.2 587.5,793.1 610.5,809.0 634.0,824.1 653.4,835.7 673.1,846.7 693.4,857.3 714.3,867.5 735.4,877.2 757.5,886.5 780.1,895.4 803.7,904.1 844.0,917.5 889.0,931.1 932.2,943.1 1037.8,971.2 1092.8,987.0 1120.7,995.8 1146.9,1004.6 1171.9,1013.7 1196.0,1023.2" fill="none" stroke="#ff00ff" stroke-width="5.0" stroke-linejoin="round"/>
<path d="M331.0,476.7 348.0,503.6 365.0,529.2 382.3,553.9 399.6,577.3 417.2,599.7 435.1,621.2 453.0,641.4 471.5,661.0 490.2,679.6 509.5,697.7 529.2,714.8 549.3,731.2 570.4,747.3 592.0,762.6 614.8,777.8 637.9,792.1 657.8,803.7 678.0,814.7 698.7,825.4 720.1,835.7 742.0,845.7 764.5,855.3 787.6,864.5 811.8,873.6 852.8,887.8 898.6,902.3 942.5,915.3 1046.9,945.2 1100.0,961.3 1125.9,969.7 1150.4,978.1 1173.8,986.6 1196.0,995.1" fill="none" stroke="#008000" stroke-width="5.0" stroke-linejoin="round"/>
<path d="M314.0,496.8 336.4,533.8 355.2,564.1 372.5,590.9 388.4,614.1 403.7,635.2 419.6,655.7 435.8,675.1 452.5,694.0 471.9,714.4 492.2,734.2 514.3,754.3 536.6,773.3 559.0,791.1 581.6,807.9 604.9,823.9 628.7,839.1 648.4,850.8 668.7,862.1 689.3,872.8 710.4,883.1 732.2,892.9 754.6,902.3 777.8,911.3 801.9,920.1 843.1,933.7 889.0,947.4 932.8,959.4 1039.0,987.3 1093.9,1002.9 1121.6,1011.4 1147.5,1020.0 1172.2,1028.7 1196.0,1037.9" fill="none" stroke="#000080" stroke-width="5.0" stroke-linejoin="round"/>
<path d="M315.0,517.5 341.1,551.6 360.8,576.7 379.3,599.5 396.4,619.5 414.0,639.3 431.9,658.3 450.1,676.5 468.9,694.4 489.5,712.9 510.6,730.8 532.1,747.9 554.1,764.5 576.2,780.1 598.8,795.1 621.7,809.3 645.2,822.9 665.5,834.0 686.3,844.6 707.5,854.8 729.2,864.7 751.5,874.1 774.4,883.3 798.2,892.2 822.9,900.9 864.6,914.5 911.3,928.4 955.7,940.8 1058.8,968.6 1109.0,982.9 1154.6,996.9 1196.0,1010.9" fill="none" stroke="#8000ff" stroke-width="5.0" stroke-linejoin="round"/>
<path d="M342.6,1849.7 358.1,1876.6 400.1,1955.7 414.0,1980.9 428.0,2005.1 443.7,2031.5 459.3,2056.3 474.8,2079.9 490.0,2101.9 506.6,2124.5 523.2,2145.7 540.1,2165.9 557.4,2185.3 574.8,2203.5 592.8,2220.9 611.2,2237.6 630.0,2253.2 646.3,2265.9 663.1,2278.2 680.5,2290.0 698.4,2301.3 716.9,2312.2 736.2,2322.9 756.2,2333.2 777.9,2343.7 817.5,2361.5 905.5,2398.7 1001.6,2441.0 1042.5,2458.4 1070.9,2469.8 1097.1,2479.6 1121.7,2488.1 1145.0,2495.4" fill="none" stroke="#000000" stroke-width="5.0" stroke-linejoin="round"/>
<path d="M347.0,1798.7 354.5,1810.8 362.4,1825.7 370.4,1842.1 395.7,1895.9 406.1,1916.4 416.7,1936.1 429.0,1957.3 441.5,1977.5 454.5,1997.1 468.3,2016.6 485.9,2039.5 505.6,2063.5 525.8,2086.6 546.6,2108.8 567.1,2129.3 588.1,2148.9 609.6,2167.7 631.4,2185.3 649.8,2199.1 668.4,2212.3 687.6,2225.1 707.3,2237.3 727.5,2249.0 748.3,2260.3 769.5,2271.0 791.9,2281.6 830.0,2298.1 872.3,2314.8 912.4,2329.4 1008.8,2363.4 1057.2,2381.5 1080.9,2391.1 1103.2,2400.6 1124.5,2410.3 1145.0,2420.2" fill="none" stroke="#ff0000" stroke-width="5.0" stroke-linejoin="round"/>
<path d="M342.6,1828.4 358.1,1861.5 373.9,1893.5 390.0,1924.4 406.3,1954.1 422.9,1982.6 439.5,2009.5 456.6,2035.7 474.0,2060.7 491.6,2084.5 509.8,2107.5 528.0,2129.1 546.7,2149.8 565.7,2169.3 585.0,2187.8 604.8,2205.4 625.1,2222.1 642.5,2235.4 660.5,2248.2 678.7,2260.3 697.6,2272.1 717.2,2283.5 737.5,2294.5 758.9,2305.4 781.9,2316.3 806.0,2327.1 833.3,2338.8 1032.9,2421.7 1064.2,2434.0 1092.8,2444.7 1119.6,2454.0 1145.0,2462.2" fill="none" stroke="#0000ff" stroke-width="5.0" stroke-linejoin="round"/>
<path d="M341.3,1820.7 358.2,1855.4 375.1,1888.6 391.9,1920.2 409.1,1950.7 426.3,1979.7 443.7,2007.6 461.1,2034.0 478.8,2059.3 496.5,2083.0 514.2,2105.3 532.1,2126.6 550.6,2147.0 569.4,2166.3 588.7,2184.8 608.5,2202.4 628.9,2219.2 648.1,2233.9 668.0,2248.1 688.3,2261.6 709.8,2274.8 732.3,2287.8 756.4,2300.7 782.1,2313.7 809.5,2326.8 839.0,2340.0 871.7,2354.1 911.3,2370.4 954.5,2387.5 997.9,2404.3 1043.7,2421.6 1145.0,2458.3" fill="none" stroke="#ff00ff" stroke-width="5.0" stroke-linejoin="round"/>
<path d="M341.0,1797.1 356.3,1831.2 371.8,1864.2 387.6,1895.9 403.7,1926.4 420.1,1955.6 436.7,1983.6 453.6,2010.4 471.0,2036.4 489.0,2061.6 507.5,2085.9 526.2,2109.0 545.3,2130.9 564.6,2151.7 584.4,2171.5 604.8,2190.4 625.4,2208.2 642.9,2222.2 660.8,2235.7 679.1,2248.6 698.1,2261.1 717.7,2273.1 737.8,2284.7 759.0,2296.1 781.2,2307.4 815.5,2323.6 856.3,2341.5 1058.4,2427.5 1145.0,2463.5" fill="none" stroke="#008000" stroke-width="5.0" stroke-linejoin="round"/>
<path d="M340.5,1799.2 345.3,1811.9 350.4,1823.7 356.3,1835.7 363.3,1848.6 388.5,1890.3 407.3,1922.4 414.3,1933.0 422.0,1943.3 453.7,1980.5 493.7,2030.3 509.2,2049.2 528.3,2071.3 547.9,2092.7 573.3,2118.9 599.1,2143.5 625.7,2167.0 652.8,2189.2 672.1,2203.9 691.9,2218.2 712.0,2231.9 732.7,2245.1 753.9,2258.0 775.6,2270.3 798.1,2282.4 821.8,2294.4 858.0,2311.5 897.9,2329.0 941.4,2346.9 1030.7,2382.3 1068.8,2397.7 1109.1,2414.9 1145.0,2431.3" fill="none" stroke="#000080" stroke-width="5.0" stroke-linejoin="round"/>
<path d="M344.0,1798.6 362.2,1832.7 380.6,1865.9 399.0,1897.7 417.7,1928.6 436.4,1958.0 455.1,1986.1 474.1,2013.3 493.0,2039.0 512.3,2063.8 531.5,2087.3 551.0,2109.7 571.0,2131.5 591.3,2152.3 611.9,2172.2 633.0,2191.3 654.4,2209.4 673.6,2224.7 693.4,2239.6 713.4,2253.7 733.9,2267.4 755.1,2280.5 777.0,2293.4 799.4,2305.8 822.9,2317.9 858.9,2335.3 898.5,2352.9 942.0,2371.0 1031.0,2406.4 1069.1,2422.1 1109.2,2439.4 1145.0,2456.0" fill="none" stroke="#8000ff" stroke-width="5.0" stroke-linejoin="round"/>
<line x1="612.4" y1="1161.0" x2="612.4" y2="195.0" stroke="#666" stroke-width="2.5" />
<polygon points="612.4,171.5 605,200.5 619.8,200.5" fill="#000"/>
<line x1="694.2" y1="174.0" x2="694.2" y2="1142.0" stroke="#666" stroke-width="2.5" />
<polygon points="694.2,1168 687,1140.6 701.4,1140.6" fill="#000"/>
<line x1="839.0" y1="453.5" x2="1054.0" y2="453.5" stroke="#000" stroke-width="4.5" stroke-dasharray="4.5 6.2"/>
<polygon points="800.5,453.5 833.5,443 833.5,463" fill="#000"/>
<line x1="1041.0" y1="697.2" x2="1180.0" y2="697.2" stroke="#000" stroke-width="4.5" stroke-dasharray="4.5 6.2"/>
<polygon points="1003.5,697.2 1036,688.3 1036,707.4" fill="#000"/>
<line x1="865.6" y1="627.8" x2="722.0" y2="773.0" stroke="#ff0000" stroke-width="4.2" stroke-linecap="round"/>
<polygon points="710,785 724.3,757.9 738.6,769.8" fill="#ff0000"/>
<text x="771.5" y="491.0" font-size="55" text-anchor="start" font-weight="normal" font-family="Liberation Sans, Arial, sans-serif" >A</text>
<text x="961.5" y="761.5" font-size="56" text-anchor="start" font-weight="normal" font-family="Liberation Sans, Arial, sans-serif" >B</text>
<text x="311.0" y="464.5" font-size="53" text-anchor="start" font-weight="normal" font-family="Liberation Sans, Arial, sans-serif" >A</text>
<text x="1197.5" y="1063.5" font-size="56" text-anchor="start" font-weight="normal" font-family="Liberation Sans, Arial, sans-serif" >B</text>
<line x1="842.0" y1="1838.2" x2="967.7" y2="1838.2" stroke="#000" stroke-width="5" stroke-linecap="round"/>
<polygon points="810.6,1838.2 843,1829.5 843,1848.4" fill="#000"/>
<line x1="1054.0" y1="2128.0" x2="1177.6" y2="2128.0" stroke="#000" stroke-width="5" stroke-linecap="round"/>
<polygon points="1024,2128.6 1055,2119 1055,2138.5" fill="#000"/>
<line x1="876.4" y1="2047.7" x2="746.0" y2="2177.0" stroke="#ff0000" stroke-width="4.2" stroke-linecap="round"/>
<polygon points="734.9,2188.5 750.8,2160.7 764,2172.6" fill="#ff0000"/>
<text x="755.5" y="1862.5" font-size="56" text-anchor="start" font-weight="normal" font-family="Liberation Sans, Arial, sans-serif" >A</text>
<text x="955.2" y="2172.5" font-size="56" text-anchor="start" font-weight="normal" font-family="Liberation Sans, Arial, sans-serif" >B</text>
<text x="327.0" y="1782.5" font-size="55" text-anchor="start" font-weight="normal" font-family="Liberation Sans, Arial, sans-serif" >A</text>
<text x="1158.4" y="2512.5" font-size="56" text-anchor="start" font-weight="normal" font-family="Liberation Sans, Arial, sans-serif" >B</text>
<text x="390.0" y="1434" font-size="87" font-family="'Liberation Serif', 'Times New Roman', serif" textLength="93.0" lengthAdjust="spacingAndGlyphs">(<tspan font-weight="bold">a</tspan>)</text>
<text x="506.6" y="1434" font-size="87" font-family="'Liberation Serif', 'Times New Roman', serif" textLength="532.4" lengthAdjust="spacingAndGlyphs">Thermoplastic</text>
<text x="1059.0" y="1434" font-size="87" font-family="'Liberation Serif', 'Times New Roman', serif" textLength="179.8" lengthAdjust="spacingAndGlyphs">resin</text>
<text x="1259.0" y="1434" font-size="87" font-family="'Liberation Serif', 'Times New Roman', serif" textLength="170.2" lengthAdjust="spacingAndGlyphs">filler</text>
<text x="286.0" y="2857.2" font-size="87" font-family="'Liberation Serif', 'Times New Roman', serif" textLength="103.2" lengthAdjust="spacingAndGlyphs">(<tspan font-weight="bold">b</tspan>)</text>
<text x="412.2" y="2857.2" font-size="87" font-family="'Liberation Serif', 'Times New Roman', serif" textLength="532.6" lengthAdjust="spacingAndGlyphs">Thermoplastic</text>
<text x="963.8" y="2857.2" font-size="87" font-family="'Liberation Serif', 'Times New Roman', serif" textLength="372.2" lengthAdjust="spacingAndGlyphs">composite</text>
<text x="1363.4" y="2857.2" font-size="87" font-family="'Liberation Serif', 'Times New Roman', serif" textLength="168.8" lengthAdjust="spacingAndGlyphs">filler</text>
</svg>
</body></html>
